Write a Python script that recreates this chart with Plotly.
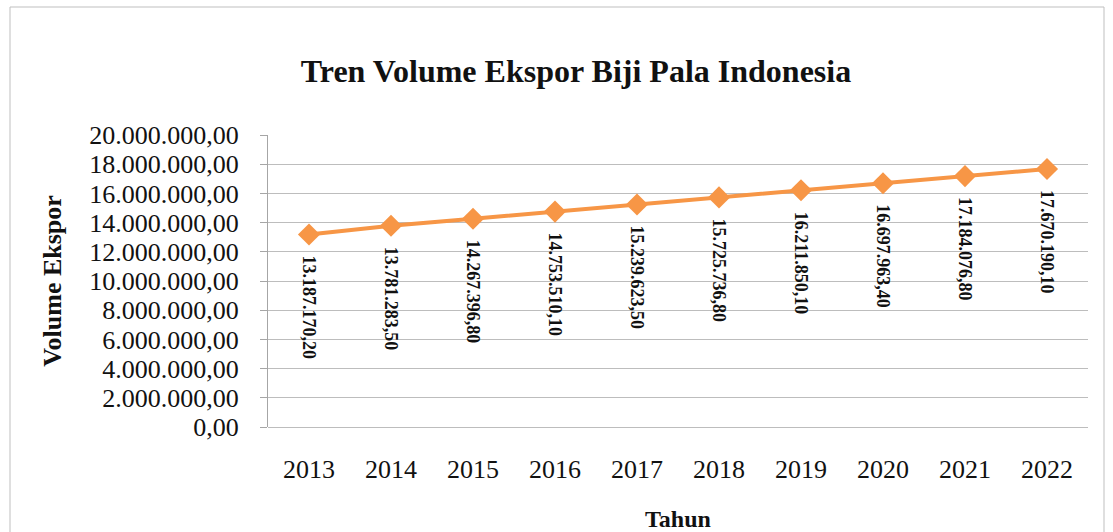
import plotly.graph_objects as go

# Export volume of nutmeg seeds, 2013-2022
years = [2013, 2014, 2015, 2016, 2017, 2018, 2019, 2020, 2021, 2022]
volumes = [13187170.20, 13781283.50, 14267396.80, 14753510.10, 15239623.50,
           15725736.80, 16211850.10, 16697963.40, 17184076.80, 17670190.10]
y_ticks = [0, 2000000, 4000000, 6000000, 8000000, 10000000,
           12000000, 14000000, 16000000, 18000000, 20000000]

W, H = 1113, 532
SERIF = "Liberation Serif, Times New Roman, serif"
ORANGE = "#F79646"


def id_format(v):
    # Indonesian number style: '.' for thousands, ',' for decimals
    s = f"{v:,.2f}"
    return s.replace(",", "#").replace(".", ",").replace("#", ".")


fig = go.Figure()
fig.add_trace(go.Scatter(
    x=years, y=volumes, mode="lines+markers",
    line=dict(color=ORANGE, width=4),
    marker=dict(symbol="diamond", size=17, color=ORANGE),
    hoverinfo="skip", showlegend=False,
))

# Rotated value labels hanging below each point
for yr, v in zip(years, volumes):
    fig.add_annotation(
        x=yr, y=v, xref="x", yref="y",
        text=f"<b>{id_format(v)}</b>", textangle=90,
        showarrow=False, xanchor="center", yanchor="top", yshift=-19,
        font=dict(family=SERIF, size=18, color="#111"),
    )

fig.update_layout(
    width=W, height=H,
    margin=dict(l=268, r=25, t=135, b=105),
    paper_bgcolor="white", plot_bgcolor="white",
    separators=",.",
    title=dict(
        text="<b>Tren Volume Ekspor Biji Pala Indonesia</b>",
        x=576 / W, xref="container", xanchor="center",
        y=1 - 71 / H, yref="container", yanchor="middle",
        font=dict(family=SERIF, size=32, color="#111"),
    ),
    xaxis=dict(
        range=[years[0] - 0.5, years[-1] + 0.5],
        tickvals=years, ticktext=[str(y) for y in years],
        showgrid=False, zeroline=False, automargin=False,
        showline=False, ticks="", ticklabelstandoff=24,
        tickfont=dict(family=SERIF, size=26, color="#111"),
        title=dict(text="<b>Tahun</b>", standoff=36,
                   font=dict(family=SERIF, size=24, color="#111")),
    ),
    yaxis=dict(
        range=[0, 20000000], tickvals=y_ticks, tickformat=",.2f",
        automargin=False,
        showgrid=True, gridcolor="#BDBDBD", gridwidth=1,
        zeroline=True, zerolinecolor="#BDBDBD", zerolinewidth=1,
        showline=True, linecolor="#A6A6A6", linewidth=1,
        ticks="outside", ticklen=7, tickcolor="#A6A6A6",
        ticklabelstandoff=16,
        tickfont=dict(family=SERIF, size=26, color="#111"),
        title=dict(text="<b>Volume Ekspor</b>", standoff=20,
                   font=dict(family=SERIF, size=26, color="#111")),
    ),
    shapes=[dict(
        type="rect", xref="paper", yref="paper",
        x0=(10 - 268) / (W - 268 - 25), x1=(1104 - 268) / (W - 268 - 25),
        y0=-0.5, y1=(H - 7 - 105) / (H - 135 - 105),
        line=dict(color="#BFBFBF", width=1), layer="below",
    )],
)

fig.write_html("out.html")
